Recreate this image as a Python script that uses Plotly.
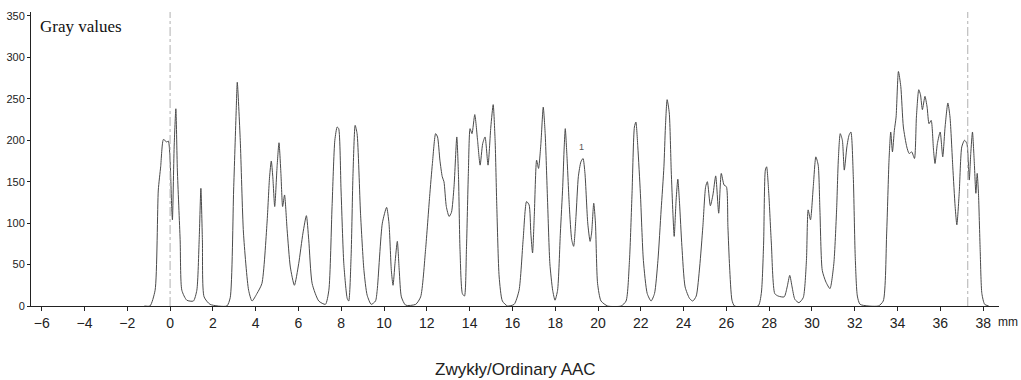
import plotly.graph_objects as go

# Profile position (mm) and gray values
position_mm = [
    -1.20, -0.94, -0.70, -0.55, -0.44, -0.31, -0.16, -0.08, 0.00, 0.08, 0.11, 0.19, 0.27, 0.34, 0.47, 0.55, 0.78,
    1.09, 1.25, 1.36, 1.44, 1.51, 1.59, 1.87, 2.65, 2.81, 2.97, 3.09, 3.14, 3.28, 3.43, 3.67, 3.83,
    4.06, 4.29, 4.53, 4.65, 4.73, 4.80, 4.89, 5.00, 5.09, 5.18, 5.26, 5.35, 5.47, 5.62, 5.81,
    6.01, 6.21, 6.37, 6.48, 6.64, 6.95, 7.26, 7.42, 7.57, 7.70, 7.81, 7.88, 7.99, 8.12, 8.28, 8.35,
    8.46, 8.55, 8.65, 8.74, 8.90, 9.06, 9.21, 9.40, 9.60,
    9.68, 9.92, 10.12, 10.23, 10.34, 10.42, 10.51, 10.62, 10.71, 10.81, 11.01, 11.48, 11.71, 11.94,
    12.13, 12.26, 12.41, 12.50, 12.61, 12.72, 12.80, 12.91, 13.04, 13.15, 13.27, 13.40, 13.48, 13.55,
    13.66, 13.76, 13.85, 13.94, 14.02, 14.11, 14.24, 14.37, 14.49, 14.61, 14.72, 14.86, 14.99, 15.10,
    15.19, 15.27, 15.38, 15.53, 15.77, 16.08, 16.31, 16.50, 16.66, 16.78, 16.86, 16.94, 17.02, 17.13,
    17.22, 17.33, 17.44, 17.53, 17.64, 17.75, 17.88, 17.99, 18.11, 18.24, 18.35, 18.42, 18.47, 18.55,
    18.66, 18.77, 18.86, 18.97, 19.08, 19.20, 19.30, 19.39, 19.52, 19.63, 19.70, 19.80, 19.88, 19.98,
    20.14, 20.45, 21.08, 21.31, 21.47, 21.59, 21.70, 21.77, 21.86, 21.98, 22.12, 22.30, 22.48, 22.64,
    22.80, 22.95, 23.08, 23.15, 23.23, 23.33, 23.42, 23.50, 23.56, 23.65, 23.73, 23.81, 23.92, 24.07,
    24.28, 24.43, 24.59, 24.75, 24.90, 25.03, 25.11, 25.25, 25.37, 25.50, 25.64, 25.76, 25.89, 26.00,
    26.07, 26.15, 26.26, 26.38, 27.48, 27.63, 27.74, 27.82, 27.88, 27.98, 28.10, 28.26, 28.42, 28.70,
    28.84, 28.96, 29.07, 29.20, 29.39, 29.59, 29.74, 29.82, 29.93, 30.06, 30.18, 30.29, 30.37, 30.48,
    30.65, 30.84, 31.02, 31.15, 31.23, 31.32, 31.42, 31.51, 31.63, 31.73, 31.82, 31.93, 32.02, 32.12,
    32.25, 33.10, 33.33, 33.49, 33.60, 33.68, 33.76, 33.85, 33.93, 34.04, 34.15, 34.27, 34.43, 34.54,
    34.66, 34.79, 34.88, 34.99, 35.07, 35.16, 35.28, 35.38, 35.47, 35.57, 35.68, 35.75, 35.86, 35.99,
    36.11, 36.22, 36.35, 36.45, 36.58, 36.69, 36.77, 36.88, 37.00, 37.13, 37.24, 37.35, 37.42, 37.50,
    37.58, 37.66, 37.72, 37.78, 37.86, 37.94, 38.07, 38.26,
]
gray_values = [
    0, 0, 19, 140, 168, 201, 198, 199, 176, 116, 104, 192, 238, 164, 80, 19, 7,
    6, 19, 80, 142, 80, 11, 2, 0, 10, 140, 236, 270, 200, 88, 19, 6,
    15, 27, 100, 156, 175, 156, 120, 168, 197, 160, 120, 134, 92, 47, 25,
    51, 88, 109, 80, 27, 6, 2, 19, 120, 200, 216, 214, 140, 51, 9, 6,
    60, 160, 218, 208, 112, 43, 13, 2, 6,
    19, 100, 119, 100, 43, 25, 51, 78, 43, 11, 1, 2, 11, 68,
    132, 172, 208, 204, 176, 156, 150, 120, 108, 113, 144, 204, 156, 68,
    15, 12, 68, 160, 214, 208, 231, 200, 170, 196, 204, 170, 216, 243,
    200, 120, 35, 6, 0, 2, 19, 80, 126, 122, 88, 64, 108, 176,
    166, 196, 240, 208, 128, 51, 19, 7, 19, 88, 144, 192, 214, 180,
    120, 80, 72, 108, 156, 174, 178, 160, 100, 78, 88, 124, 100, 27,
    6, 0, 0, 6, 55, 136, 216, 222, 192, 136, 55, 15, 6, 15,
    55, 116, 168, 216, 249, 233, 164, 112, 84, 128, 153, 124, 72, 23,
    9, 6, 12, 47, 96, 144, 150, 121, 134, 157, 112, 160, 146, 144,
    96, 47, 7, 0, 0, 15, 76, 164, 168, 136, 76, 15, 12, 11,
    23, 37, 23, 8, 4, 10, 55, 116, 104, 144, 180, 170, 116, 43,
    29, 21, 51, 116, 176, 208, 200, 164, 192, 206, 210, 156, 60, 12,
    2, 0, 6, 88, 176, 210, 186, 212, 228, 283, 265, 216, 192, 184,
    186, 178, 228, 261, 255, 237, 253, 240, 220, 224, 188, 172, 196, 210,
    180, 216, 245, 228, 168, 120, 98, 136, 192, 200, 196, 152, 184, 210,
    176, 136, 160, 136, 68, 15, 2, 0,
]

y_ticks = [0, 50, 100, 150, 200, 250, 300, 350]
x_ticks = list(range(-6, 39, 2))
marker_lines_mm = [0.0, 37.28]

fig = go.Figure()
fig.add_trace(go.Scatter(
    x=position_mm, y=gray_values, mode="lines",
    line=dict(color="#4a4a4a", width=1, shape="spline", smoothing=0.6),
    showlegend=False, hoverinfo="skip",
))

for xm in marker_lines_mm:
    fig.add_shape(type="line", xref="x", yref="paper", x0=xm, x1=xm, y0=0, y1=1,
                  line=dict(color="#b0b0b0", width=1, dash="dashdot"))

fig.update_layout(
    width=1021, height=380,
    margin=dict(l=31, r=22, t=12, b=74, autoexpand=False),
    paper_bgcolor="white", plot_bgcolor="white",
    font=dict(family="Liberation Sans, Arial, sans-serif", color="#222"),
    xaxis=dict(range=[-6.50, 38.74], tickvals=x_ticks, ticktext=[str(v).replace("-", "\u2212") for v in x_ticks],
               automargin=False,
               showgrid=False, zeroline=False, showline=True, linecolor="#222", linewidth=1,
               ticks="outside", ticklen=4, tickcolor="#222", tickfont=dict(size=14, color="#222")),
    yaxis=dict(range=[0, 354.8], tickvals=y_ticks, showgrid=False, zeroline=False, automargin=False,
               showline=True, linecolor="#222", linewidth=1,
               ticks="outside", ticklen=3, tickcolor="#222", tickfont=dict(size=11, color="#222")),
    annotations=[
        dict(text="Gray values", xref="paper", yref="paper", x=0.007, y=0.99, xanchor="left", yanchor="top",
             showarrow=False, font=dict(family="Liberation Serif, Times New Roman, serif", size=17, color="#111")),
        dict(text="mm", xref="paper", yref="paper", x=(1019 - 31) / 968, y=-0.054, xanchor="right",
             yanchor="middle", showarrow=False, borderpad=0, font=dict(size=12, color="#222")),
        dict(text="1", xref="x", yref="y", x=19.25, y=192, showarrow=False,
             font=dict(size=9, color="#555")),
        dict(text="Zwykły/Ordinary AAC", xref="paper", yref="paper", x=(515 - 31) / 968, y=(306 - 369) / 294,
             xanchor="center", yanchor="middle", showarrow=False, font=dict(size=17, color="#222")),
    ],
)

fig.write_html("out.html")
